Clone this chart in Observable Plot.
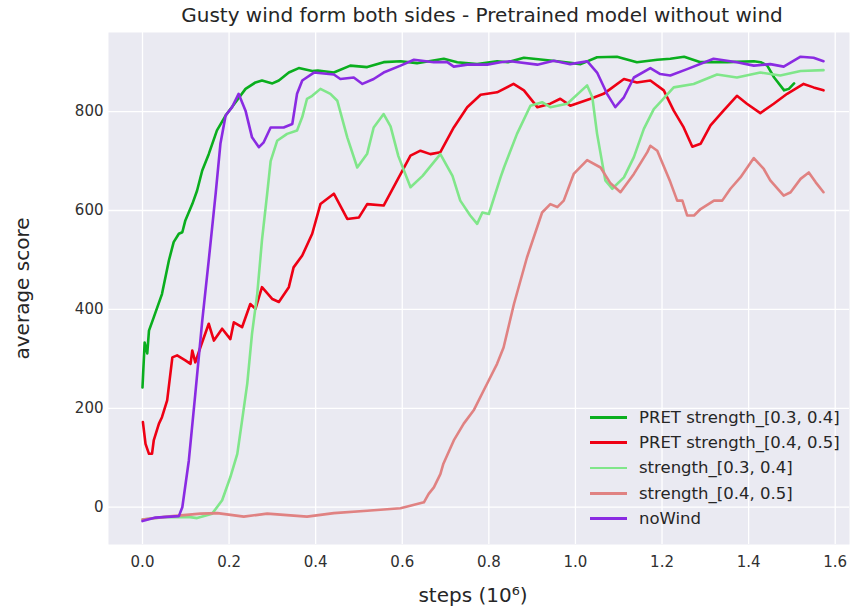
<!DOCTYPE html>
<html>
<head>
<meta charset="utf-8">
<script src="https://cdn.jsdelivr.net/npm/d3@7"></script>
<script src="https://cdn.jsdelivr.net/npm/@observablehq/plot@0.6"></script>
<style>
  html, body { margin: 0; padding: 0; background: white; }
  #wrap { position: relative; width: 851px; height: 610px; font-family: "DejaVu Sans", sans-serif; }
  #legend { position: absolute; left: 590px; top: 404.7px; }
  .row { display: flex; align-items: center; height: 25.3px; }
  .sw { width: 37px; height: 2.8px; margin-right: 12px; }
  .lab { font-size: 16.5px; color: #262626; white-space: nowrap; }
</style>
</head>
<body>
<div id="wrap"></div>
<script>
const title = "Gusty wind form both sides - Pretrained model without wind";
const xLabel = "steps (10⁶)";
const yLabel = "average score";
const xTicks = [0, 0.2, 0.4, 0.6, 0.8, 1.0, 1.2, 1.4, 1.6];
const yTicks = [0, 200, 400, 600, 800];
const seriesNames = ["PRET strength_[0.3, 0.4]", "PRET strength_[0.4, 0.5]", "strength_[0.3, 0.4]", "strength_[0.4, 0.5]", "noWind"];
const seriesColors = ["#0aae1e", "#ee0014", "#80e68a", "#e08282", "#8a2be2"];

// steps in millions, average score
const pret34 = [[0.000,242],[0.005,333],[0.011,311],[0.015,357],[0.026,384],[0.045,431],[0.061,499],[0.072,536],[0.084,553],[0.092,556],[0.099,580],[0.115,613],[0.126,640],[0.138,681],[0.153,714],[0.172,762],[0.192,792],[0.215,819],[0.238,846],[0.261,859],[0.276,863],[0.300,857],[0.315,863],[0.338,879],[0.361,888],[0.392,882],[0.405,883],[0.442,879],[0.480,893],[0.519,890],[0.557,900],[0.596,902],[0.634,898],[0.696,907],[0.727,900],[0.773,896],[0.819,902],[0.844,900],[0.881,909],[0.958,902],[1.012,896],[1.050,910],[1.096,911],[1.142,900],[1.189,905],[1.219,907],[1.251,911],[1.289,900],[1.351,900],[1.412,902],[1.428,900],[1.443,893],[1.459,869],[1.482,843],[1.493,846],[1.505,857]];

const pret45 = [[0.001,172],[0.007,128],[0.015,108],[0.022,108],[0.026,135],[0.038,169],[0.045,182],[0.057,216],[0.069,303],[0.080,307],[0.099,297],[0.111,290],[0.115,317],[0.122,293],[0.134,324],[0.153,371],[0.165,337],[0.184,361],[0.203,340],[0.211,374],[0.230,364],[0.249,411],[0.261,401],[0.276,445],[0.300,421],[0.315,415],[0.338,445],[0.349,485],[0.369,509],[0.392,553],[0.411,613],[0.442,634],[0.473,583],[0.500,586],[0.519,613],[0.557,610],[0.592,667],[0.619,711],[0.642,721],[0.665,714],[0.688,718],[0.719,768],[0.750,809],[0.781,834],[0.819,839],[0.857,856],[0.881,843],[0.912,809],[0.942,816],[0.965,826],[0.988,812],[1.035,826],[1.065,836],[1.081,846],[1.112,866],[1.142,859],[1.173,863],[1.204,843],[1.227,802],[1.250,768],[1.270,729],[1.289,735],[1.312,772],[1.342,802],[1.373,832],[1.396,816],[1.427,797],[1.458,816],[1.489,836],[1.527,856],[1.550,849],[1.573,843]];

const str34 = [[0.000,-25],[0.050,-20],[0.110,-20],[0.126,-22],[0.161,-13],[0.184,14],[0.203,61],[0.219,108],[0.230,175],[0.242,250],[0.253,351],[0.265,431],[0.276,540],[0.288,634],[0.296,700],[0.311,741],[0.334,755],[0.357,762],[0.369,789],[0.380,826],[0.392,832],[0.411,846],[0.434,836],[0.450,822],[0.473,748],[0.496,687],[0.519,715],[0.534,768],[0.557,795],[0.573,770],[0.591,710],[0.619,647],[0.647,670],[0.688,714],[0.716,670],[0.734,620],[0.757,590],[0.773,573],[0.785,596],[0.800,593],[0.827,667],[0.835,687],[0.865,755],[0.896,812],[0.923,819],[0.942,809],[0.981,816],[1.027,853],[1.039,829],[1.050,755],[1.069,661],[1.085,644],[1.112,667],[1.135,708],[1.158,765],[1.181,805],[1.196,819],[1.227,849],[1.273,856],[1.327,875],[1.373,869],[1.427,879],[1.473,873],[1.520,882],[1.573,884]];

const str45 = [[0.000,-25],[0.057,-19],[0.134,-13],[0.173,-12],[0.234,-19],[0.288,-13],[0.380,-19],[0.442,-12],[0.519,-7],[0.596,-2],[0.650,10],[0.661,27],[0.673,40],[0.688,67],[0.695,88],[0.719,135],[0.742,169],[0.765,196],[0.788,236],[0.819,290],[0.834,323],[0.858,411],[0.888,505],[0.923,596],[0.942,613],[0.958,607],[0.973,620],[0.996,674],[1.027,702],[1.058,687],[1.081,655],[1.104,637],[1.135,674],[1.166,718],[1.173,731],[1.189,721],[1.219,658],[1.235,620],[1.247,620],[1.258,590],[1.274,590],[1.289,603],[1.320,620],[1.339,620],[1.358,644],[1.381,667],[1.412,706],[1.435,684],[1.450,661],[1.481,630],[1.497,637],[1.520,664],[1.539,677],[1.555,657],[1.573,637]];

const noWind = [[0.000,-28],[0.030,-21],[0.084,-18],[0.092,0],[0.107,94],[0.122,229],[0.138,377],[0.153,499],[0.169,634],[0.180,735],[0.192,792],[0.207,809],[0.222,836],[0.238,802],[0.253,748],[0.269,728],[0.280,738],[0.296,768],[0.326,768],[0.346,775],[0.357,836],[0.369,863],[0.396,879],[0.442,875],[0.457,866],[0.488,869],[0.508,856],[0.534,866],[0.557,879],[0.596,893],[0.627,905],[0.673,900],[0.704,900],[0.719,891],[0.750,895],[0.796,895],[0.827,900],[0.850,902],[0.912,895],[0.950,903],[0.988,896],[1.027,902],[1.050,879],[1.073,836],[1.092,809],[1.112,829],[1.135,869],[1.173,888],[1.196,876],[1.219,873],[1.258,886],[1.319,907],[1.373,900],[1.412,893],[1.450,896],[1.481,891],[1.520,911],[1.550,909],[1.573,902]];

const allSeries = [pret34, pret45, str34, str45, noWind];

const plot = Plot.plot({
  width: 851,
  height: 610,
  marginTop: 32,
  marginLeft: 108,
  marginRight: 2,
  marginBottom: 66,
  style: { fontFamily: "DejaVu Sans, sans-serif", background: "white", overflow: "visible" },
  x: { domain: [-0.0785, 1.633] },
  y: { domain: [-75.4, 960] },
  marks: [
    Plot.frame({ fill: "#eaeaf2", stroke: null }),
    Plot.gridX(xTicks, { stroke: "white", strokeOpacity: 1, strokeWidth: 1.3 }),
    Plot.gridY(yTicks, { stroke: "white", strokeOpacity: 1, strokeWidth: 1.3 }),
    Plot.axisX(xTicks, { tickSize: 0, tickPadding: 12, fontSize: 15, fill: "#303030", tickFormat: d3.format(".1f"), label: null }),
    Plot.axisY(yTicks, { tickSize: 0, tickPadding: 5, fontSize: 15, fill: "#303030", label: null }),
    ...allSeries.map((s, i) => Plot.line(s, { x: d => d[0], y: d => d[1], stroke: seriesColors[i], strokeWidth: 2.6 })),
    Plot.text([title], { text: d => d, frameAnchor: "top", dy: -17, dx: 3, fontSize: 20, fill: "#262626", lineAnchor: "middle" }),
    Plot.text([xLabel], { text: d => d, frameAnchor: "bottom", dy: 51, dx: -6, fontSize: 20, fill: "#262626", lineAnchor: "middle" }),
    Plot.text([yLabel], { text: d => d, frameAnchor: "left", dx: -86, rotate: -90, textAnchor: "middle", fontSize: 20, fill: "#262626", lineAnchor: "middle" })
  ]
});

const wrap = document.getElementById("wrap");
wrap.appendChild(plot);
const legend = document.createElement("div");
legend.id = "legend";
seriesNames.forEach((n, i) => {
  const row = document.createElement("div");
  row.className = "row";
  const sw = document.createElement("div");
  sw.className = "sw";
  sw.style.background = seriesColors[i];
  const lab = document.createElement("span");
  lab.className = "lab";
  lab.textContent = n;
  row.appendChild(sw);
  row.appendChild(lab);
  legend.appendChild(row);
});
wrap.appendChild(legend);
</script>
</body>
</html>
